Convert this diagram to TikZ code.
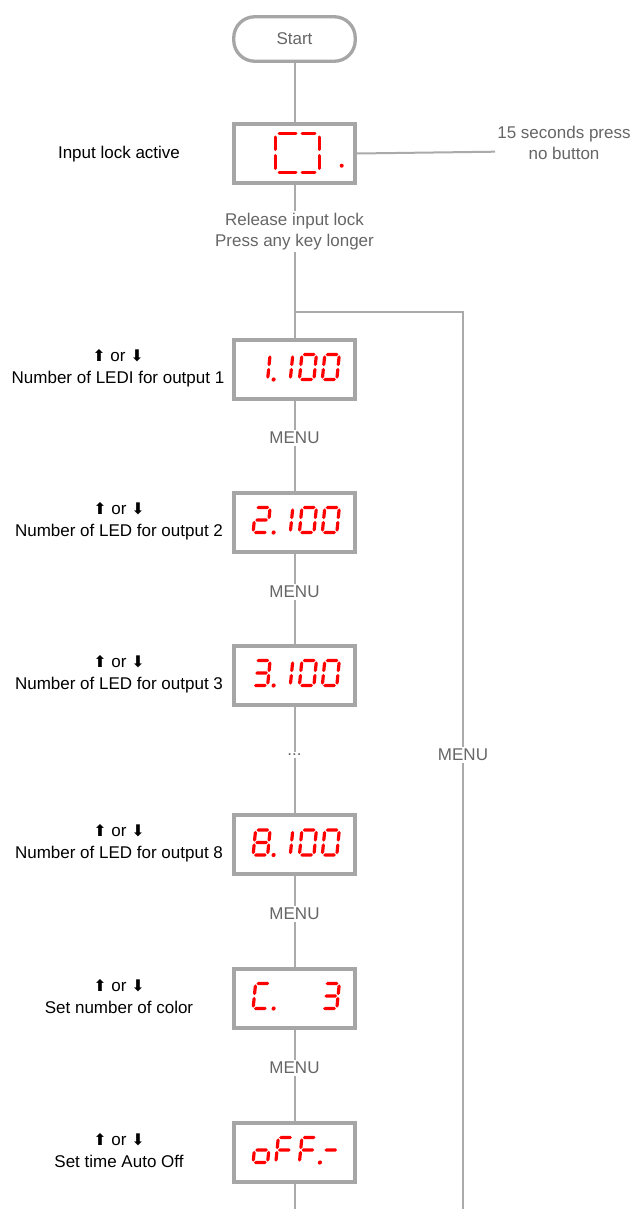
\documentclass[tikz,border=0pt]{standalone}
\usepackage{fontspec}
\setmainfont{Liberation Sans}
\newfontfamily\symfont{DejaVu Sans}
\definecolor{linegray}{HTML}{AAAAAA}
\definecolor{boxgray}{HTML}{A6A6A6}
\definecolor{txtgray}{HTML}{666666}
\definecolor{ledred}{HTML}{FF0000}
\newcommand\uparw{{\symfont\fontsize{16}{16}\selectfont ⬆}}
\newcommand\dnarw{{\symfont\fontsize{16}{16}\selectfont ⬇}}
% seven-segment helpers
\newcommand\hsg[3]{\pgfmathsetmacro\ldlen{#2-#1-3.2}\fill[ledred] (#1,#3) -- ++(1.6,1.6) -- ++(\ldlen,0) -- ++(1.6,-1.6) -- ++(-1.6,-1.6) -- ++(-\ldlen,0) -- cycle;}
\newcommand\vsg[3]{\pgfmathsetmacro\ldlen{#3-#2-3.2}\fill[ledred] (#1,#2) -- ++(1.6,1.6) -- ++(0,\ldlen) -- ++(-1.6,1.6) -- ++(-1.6,-1.6) -- ++(0,-\ldlen) -- cycle;}
\newcommand\ldsega{\hsg{0.9}{13.6}{25}}
\newcommand\ldsegb{\vsg{14.5}{13.4}{24.1}}
\newcommand\ldsegc{\vsg{14.5}{0.9}{11.6}}
\newcommand\ldsegd{\hsg{0.9}{13.6}{0}}
\newcommand\ldsege{\vsg{0}{0.9}{11.6}}
\newcommand\ldsegf{\vsg{0}{13.4}{24.1}}
\newcommand\ldsegg{\hsg{0.9}{13.6}{12.5}}
\newcommand\ldsegp{\fill[ledred] (20.5,0) circle (2.1);}
\newcommand\lddig[2]{\begin{scope}[shift={(#1,-10.5)},xslant=0.1]\foreach \s in {#2}{\csname ldseg\s\endcsname}\end{scope}}
\newcommand\cellA{-41.4}
\newcommand\cellB{-18.7}
\newcommand\cellC{4.9}
\newcommand\cellD{27.8}
\tikzset{
  ledbox/.style={draw=boxgray, line width=4pt, minimum width=121pt, minimum height=59pt, inner sep=0pt},
  startbox/.style={draw=boxgray, line width=3.3pt, rounded corners=21pt, minimum width=121.5pt, minimum height=44.5pt, text=txtgray, font=\fontsize{17}{21}\selectfont},
  conn/.style={draw=linegray, line width=2pt},
  gtxt/.style={text=txtgray, font=\fontsize{17}{21}\selectfont, align=center, inner sep=2pt},
  ltxt/.style={text=black, font=\fontsize{17}{22}\selectfont, align=center, inner sep=0pt},
  lockseg/.style={draw=ledred, line width=3pt, line cap=round}
}
\begin{document}
\begin{tikzpicture}[x=1pt,y=1pt]
\fill[white] (0,0) rectangle (633,-1209);
\path[use as bounding box] (0,0) rectangle (633,-1209);
% nodes
\node[startbox] (start) at (294.5,-39) {Start};
\node[ledbox] (lock) at (294.5,-153.5) {};
\node[ltxt] (llock) at (119,-154) {Input lock active};
\node[gtxt] (note) at (564,-142.5) {15 seconds press\\no button};
\coordinate (nend) at (495,-151.7);
\node[gtxt] (rel) at (294.5,-231.5) {Release input lock\\Press any key longer};
\coordinate (j) at (294.5,-311.7);
\coordinate (jr) at (463,-311.7);
\node[ledbox] (b1) at (294.5,-369) {};
\node[ltxt] (l1) at (118,-368) {\uparw{} or \dnarw\\Number of LEDI for output 1};
\node[gtxt] (m1) at (294.5,-438) {MENU};
\node[ledbox] (b2) at (294.5,-522) {};
\node[ltxt] (l2) at (119,-521) {\uparw{} or \dnarw\\Number of LED for output 2};
\node[gtxt] (m2) at (294.5,-592) {MENU};
\node[ledbox] (b3) at (294.5,-675) {};
\node[ltxt] (l3) at (119,-674) {\uparw{} or \dnarw\\Number of LED for output 3};
\node[gtxt] (dots) at (294.5,-755) {...};
\node[ledbox] (b8) at (294.5,-844.5) {};
\node[ltxt] (l8) at (119,-843.5) {\uparw{} or \dnarw\\Number of LED for output 8};
\node[gtxt] (m3) at (294.5,-914) {MENU};
\node[ledbox] (bc) at (294.5,-998) {};
\node[ltxt] (lc) at (119,-997) {\uparw{} or \dnarw\\Set number of color};
\node[gtxt] (m4) at (294.5,-1068) {MENU};
\node[ledbox] (bo) at (294.5,-1152) {};
\node[ltxt] (lo) at (119,-1151) {\uparw{} or \dnarw\\Set time Auto Off};
\node[gtxt] (rm) at (463,-755) {MENU};
\coordinate (bend) at (294.5,-1209);
\coordinate (rend) at (463,-1209);
% connectors
\draw[conn] (start) -- (lock);
\draw[conn] (lock.east) -- (nend);
\draw[conn] (lock) -- (rel);
\draw[conn] (rel) -- (j) -- (b1);
\draw[conn] (j) -- (jr) -- (rm);
\draw[conn] (rm) -- (rend);
\draw[conn] (b1) -- (m1);
\draw[conn] (m1) -- (b2);
\draw[conn] (b2) -- (m2);
\draw[conn] (m2) -- (b3);
\draw[conn] (b3) -- (dots);
\draw[conn] (dots) -- (b8);
\draw[conn] (b8) -- (m3);
\draw[conn] (m3) -- (bc);
\draw[conn] (bc) -- (m4);
\draw[conn] (m4) -- (bo);
\draw[conn] (bo) -- (bend);
% lock display
\begin{scope}[shift={(lock.center)}]
  \draw[lockseg] (-19.5,16.5) -- (-19.5,4) (-19.5,-2) -- (-19.5,-15);
  \draw[lockseg] (24.5,16.5) -- (24.5,4) (24.5,-2) -- (24.5,-15);
  \draw[lockseg] (-15.5,20) -- (1.5,20) (7.5,20) -- (20.5,20);
  \draw[lockseg] (-15.5,-19) -- (1.5,-19) (7.5,-19) -- (20.5,-19);
  \fill[ledred] (47.2,-12.2) circle (2);
\end{scope}
% LED displays
\begin{scope}[shift={(b1.center)}]
  \lddig{\cellA}{b,c,p}\lddig{\cellB}{b,c}\lddig{\cellC}{a,b,c,d,e,f}\lddig{\cellD}{a,b,c,d,e,f}
\end{scope}
\begin{scope}[shift={(b2.center)}]
  \lddig{\cellA}{a,b,g,e,d,p}\lddig{\cellB}{b,c}\lddig{\cellC}{a,b,c,d,e,f}\lddig{\cellD}{a,b,c,d,e,f}
\end{scope}
\begin{scope}[shift={(b3.center)}]
  \lddig{\cellA}{a,b,g,c,d,p}\lddig{\cellB}{b,c}\lddig{\cellC}{a,b,c,d,e,f}\lddig{\cellD}{a,b,c,d,e,f}
\end{scope}
\begin{scope}[shift={(b8.center)}]
  \lddig{\cellA}{a,b,c,d,e,f,g,p}\lddig{\cellB}{b,c}\lddig{\cellC}{a,b,c,d,e,f}\lddig{\cellD}{a,b,c,d,e,f}
\end{scope}
\begin{scope}[shift={(bc.center)}]
  \lddig{\cellA}{a,f,e,d,p}\lddig{\cellD}{a,b,g,c,d}
\end{scope}
\begin{scope}[shift={(bo.center)}]
  \lddig{\cellA}{g,c,d,e}\lddig{\cellB}{a,f,g,e}\lddig{\cellC}{a,f,g,e,p}\lddig{\cellD}{g}
\end{scope}
\end{tikzpicture}
\end{document}
